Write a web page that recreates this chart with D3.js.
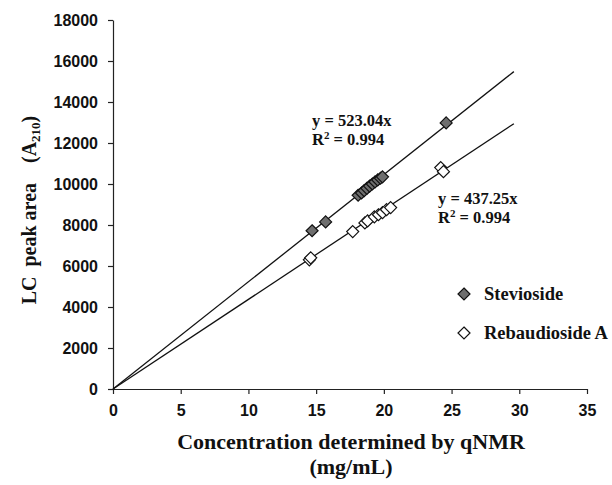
<!DOCTYPE html>
<html><head><meta charset="utf-8">
<script src="https://cdn.jsdelivr.net/npm/d3@7"></script>
<style>body{margin:0;background:#fff}</style>
</head><body><svg id="c" width="612" height="485"></svg>
<script>
const xTicks = [0,5,10,15,20,25,30,35];
const yTicks = [0,2000,4000,6000,8000,10000,12000,14000,16000,18000];
const stevioside = [[14.7,7720],[15.7,8150],[18.1,9450],[18.35,9560],[18.55,9680],[18.75,9790],[18.95,9900],[19.15,10000],[19.35,10100],[19.55,10200],[19.75,10280],[19.9,10350],[24.6,12980]];
const rebaudioside = [[14.5,6300],[14.6,6400],[17.7,7680],[18.6,8100],[18.8,8200],[19.3,8400],[19.6,8500],[19.9,8600],[20.2,8750],[20.5,8850],[24.2,10800],[24.4,10600]];
const slopes = [523.04, 437.25];
const lineEnd = 29.6;
const eqs = [["y = 523.04x","R² = 0.994"],["y = 437.25x","R² = 0.994"]];
const legendLabels = ["Stevioside","Rebaudioside A"];

const svg = d3.select("#c");
const x = d3.scaleLinear().domain([0,35]).range([113,587]);
const y = d3.scaleLinear().domain([0,18000]).range([389,20]);
const sans = "Arial, 'Liberation Sans', sans-serif";
const serif = "'Times New Roman', 'Liberation Serif', serif";

const xa = svg.append("g").attr("transform","translate(0,389)")
  .call(d3.axisBottom(x).tickValues(xTicks).tickFormat(d3.format("d")).tickSize(5).tickSizeOuter(0).tickPadding(8));
const ya = svg.append("g").attr("transform","translate(113,0)")
  .call(d3.axisLeft(y).tickValues(yTicks).tickFormat(d3.format("d")).tickSize(5).tickSizeOuter(0).tickPadding(10));
[xa,ya].forEach(a=>{
  a.selectAll("path,line").attr("stroke","#222").attr("stroke-width",1.2);
  a.selectAll("text").attr("font-family",sans).attr("font-weight","bold").attr("font-size",16).attr("fill","#111");
});
xa.selectAll("text").attr("dy","0.85em");

// regression lines
slopes.forEach(s=>{
  svg.append("line").attr("x1",x(0)).attr("y1",y(0)).attr("x2",x(lineEnd)).attr("y2",y(s*lineEnd))
    .attr("stroke","#111").attr("stroke-width",1.3);
});

const r = 6;
const diamond = `M0,${-r}L${r},0L0,${r}L${-r},0Z`;
function drawPts(data, fill){
  svg.append("g").selectAll("path").data(data).join("path")
    .attr("d",diamond).attr("transform",d=>`translate(${x(d[0])},${y(d[1])})`)
    .attr("fill",fill).attr("stroke","#111").attr("stroke-width",1.2);
}
drawPts(stevioside,"#6e6e6e");
drawPts(rebaudioside,"#fff");

// equations
const eqPos = [[312,126],[438,204]];
eqs.forEach((e,i)=>{
  svg.append("text").attr("x",eqPos[i][0]).attr("y",eqPos[i][1])
    .attr("font-family",serif).attr("font-weight","bold").attr("font-size",16.5).attr("fill","#111")
    .text(e[0]);
  const t = svg.append("text").attr("x",eqPos[i][0]).attr("y",eqPos[i][1]+19)
    .attr("font-family",serif).attr("font-weight","bold").attr("font-size",16.5).attr("fill","#111");
  t.append("tspan").text("R");
  t.append("tspan").attr("font-size",11).attr("dy",-6).text("2");
  t.append("tspan").attr("dy",6).text(" = 0.994");
});

// legend
const legY = [294,333];
legendLabels.forEach((l,i)=>{
  svg.append("path").attr("d",diamond).attr("transform",`translate(464,${legY[i]})`)
    .attr("fill", i===0?"#6e6e6e":"#fff").attr("stroke","#111").attr("stroke-width",1.2);
  svg.append("text").attr("x",484).attr("y",legY[i]+6).text(l)
    .attr("font-family",serif).attr("font-weight","bold").attr("font-size",18.5).attr("fill","#111");
});

// axis titles
svg.append("text").attr("x",351).attr("y",449).attr("text-anchor","middle")
  .attr("font-family",serif).attr("font-weight","bold").attr("font-size",22).attr("fill","#111")
  .text("Concentration determined by qNMR");
svg.append("text").attr("x",351).attr("y",474).attr("text-anchor","middle")
  .attr("font-family",serif).attr("font-weight","bold").attr("font-size",22).attr("fill","#111")
  .text("(mg/mL)");
const yt = svg.append("text").attr("transform","translate(36,210) rotate(-90)").attr("text-anchor","middle")
  .attr("font-family",serif).attr("font-weight","bold").attr("font-size",20).attr("fill","#111")
  .attr("xml:space","preserve");
yt.append("tspan").text("LC  peak area    (A");
yt.append("tspan").attr("font-size",13).attr("dy",4).text("210");
yt.append("tspan").attr("dy",-4).text(")");
</script></body></html>
